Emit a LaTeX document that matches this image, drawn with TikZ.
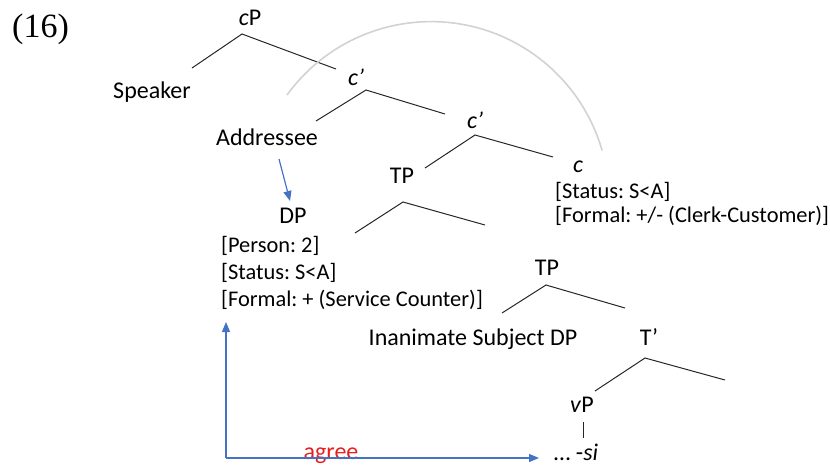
\documentclass[tikz,border=0pt]{standalone}
\usepackage{fontspec}
\setmainfont{Carlito}
\newfontfamily\tnr{Liberation Serif}
\usetikzlibrary{arrows.meta}
\definecolor{arrblue}{RGB}{68,114,196}
\definecolor{agreered}{RGB}{232,30,30}
\begin{document}
\frenchspacing
\begin{tikzpicture}[x=1pt,y=-1pt,
  lbl/.style={inner sep=0pt, anchor=base, font=\fontsize{24}{28}\selectfont},
  feat/.style={inner sep=0pt, anchor=base west, font=\fontsize{22.4}{26}\selectfont},
  branch/.style={line width=1pt, black!85},
  bluearrow/.style={draw=arrblue, line width=1.2pt, -{Triangle[length=10pt,width=8pt]}},
  sketch/.style={draw=gray!35, line width=1.6pt}]
\useasboundingbox (0,0) rectangle (830,466);

% example number
\node[inner sep=0pt, anchor=base west, font=\tnr\fontsize{34}{36}\selectfont] (num) at (12,37) {(16)};

% tree labels
\node[lbl] (cP) at (250,25) {\textit{c}P};
\node[lbl] (spk) at (152,98) {Speaker};
\node[lbl] (c1) at (356,85) {\textit{c’}};
\node[lbl] (addr) at (267,145) {Addressee};
\node[lbl] (c2) at (475,128) {\textit{c’}};
\node[lbl] (tp1) at (402,183) {TP};
\node[lbl] (chead) at (578,172) {\textit{c}};
\node[feat] (cst) at (555,198) {[Status: S<A]};
\node[feat] (cfm) at (555,222) {[Formal: +/- (Clerk-Customer)]};
\node[lbl] (dp) at (293,223) {DP};
\node[feat] (dper) at (221,252) {[Person: 2]};
\node[feat] (dst) at (221,279) {[Status: S<A]};
\node[feat] (dfm) at (221,306) {[Formal: + (Service Counter)]};
\node[lbl] (tp2) at (547,275) {TP};
\node[lbl] (isd) at (473,345) {Inanimate Subject DP};
\node[lbl] (tbar) at (649,345) {T’};
\node[lbl] (vp) at (582,412) {\textit{v}P};
\node[lbl] (si) at (576,460) {… -\textit{si}};
\node[lbl, text=agreered] (agree) at (331,459) {agree};

% branch points
\coordinate (a1) at (242,34);  \coordinate (a1l) at (192,68);  \coordinate (a1r) at (336,69);
\coordinate (a2) at (366,90);  \coordinate (a2l) at (316,121); \coordinate (a2r) at (445,114);
\coordinate (a3) at (475,135); \coordinate (a3l) at (425,168); \coordinate (a3r) at (553,157);
\coordinate (a4) at (403,202); \coordinate (a4l) at (355,233); \coordinate (a4r) at (485,225);
\coordinate (a5) at (546,285); \coordinate (a5l) at (502,313); \coordinate (a5r) at (625,308);
\coordinate (a6) at (645,358); \coordinate (a6l) at (595,391); \coordinate (a6r) at (725,380);
\coordinate (v1) at (583,422); \coordinate (v2) at (583,438);

\draw[branch] (a1l) -- (a1) -- (a1r);
\draw[branch] (a2l) -- (a2) -- (a2r);
\draw[branch] (a3l) -- (a3) -- (a3r);
\draw[branch] (a4l) -- (a4) -- (a4r);
\draw[branch] (a5l) -- (a5) -- (a5r);
\draw[branch] (a6l) -- (a6) -- (a6r);
\draw[branch] (v1) -- (v2);

% sketched arc
\coordinate (arcs) at (287,95);
\draw[sketch] (arcs) arc[start angle=144, end angle=16, radius=178pt];

% blue arrows
\coordinate (b1) at (279,159); \coordinate (b2) at (290,201);
\draw[bluearrow] (b1) -- (b2);
\coordinate (corner) at (226,458);
\coordinate (up) at (226,322);
\coordinate (right) at (539,458);
\draw[bluearrow] (corner) -- (up);
\draw[bluearrow] (corner) -- (right);
\end{tikzpicture}
\end{document}
